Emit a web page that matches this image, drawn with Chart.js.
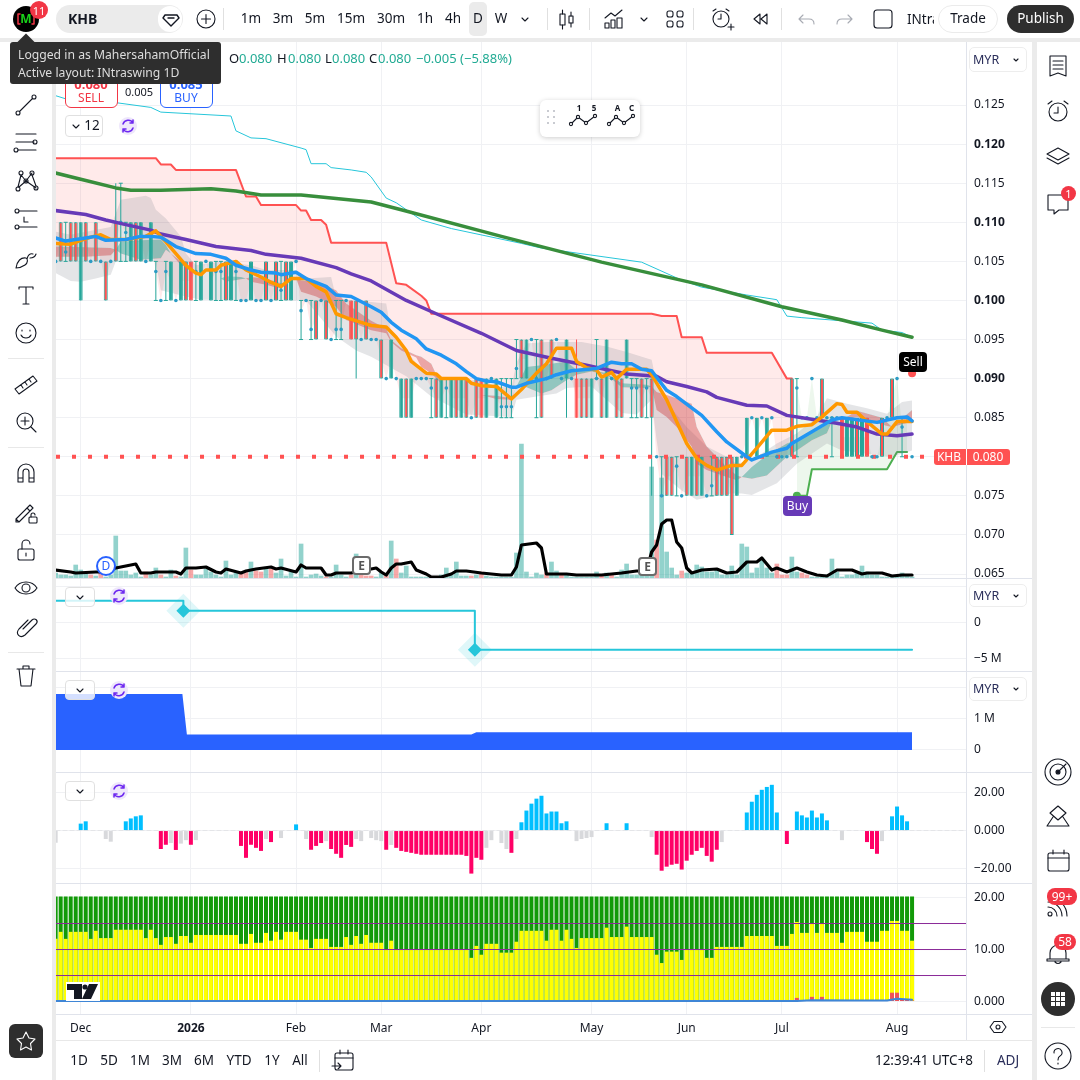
<!DOCTYPE html>
<html><head><meta charset="utf-8">
<script src="https://cdn.jsdelivr.net/npm/chart.js@4/dist/chart.umd.min.js"></script>
<style>
html,body{margin:0;padding:0;background:#fff;width:1080px;height:1080px;overflow:hidden;font-family:"Noto Sans",sans-serif;color:#131722}
canvas{position:absolute;left:56px;display:block}
.t{position:absolute;white-space:nowrap;line-height:1;transform:translate(-50%,-50%)}
.l{position:absolute;white-space:nowrap;line-height:1;transform:translateY(-50%)}
.b{position:absolute;box-sizing:border-box}
svg{position:absolute;overflow:visible}
</style></head><body>
<div id="ui"></div>
<script>
// ---------- time axis ----------
const monthBars=[5,27,48,65,85,107,126,145,168];
const monthLabels=['Dec','2026','Feb','Mar','Apr','May','Jun','Jul','Aug'];
// ---------- candles (per bar) ----------
const opens=[.105,.11,.1062,.11,.11,.10,.11,.105,.11,.105,
.105,.105,.11,.11,.1087,.105,.11,.105,.105,.105,
.1037,.10,.1037,.10,.10,.10,.105,.105,.1037,.10,
.105,.10,.1037,.1037,.105,.10,.1037,.10,.10,.10,
.10,.10,.105,.10,.105,.1013,.105,.10,.105,.0987,
.10,.0963,.10,.10,.10,.095,.0963,.0963,.10,.10,
.10,.095,.10,.095,.095,.095,.09,.09,.09,.085,
.09,.085,.09,.09,.09,.0888,.09,.085,.0888,.085,
.09,.085,.09,.085,.09,.09,.085,.09,.085,.0864,
.0864,.0864,.0913,.095,.09,.095,.09,.095,.09,.095,
.095,.09,.09,.09,.09,.09,.09,.085,.09,.09,
.085,.09,.09,.09,.09,.0888,.0888,.09,.0888,.09,
.08,.075,.08,.08,.0788,.075,.08,.075,.08,.075,
.075,.0763,.08,.08,.08,.08,.075,.08,.08,.085,
.08,.085,.08,.085,.08,.08,.08,.09,.0888,.085,
.085,.09,.085,.09,.085,.085,.085,.085,.08,.08,
.085,.08,.085,.08,.08,.085,.085,.09,.09,.0838,.085,.08];
const highs=[.105,.11,.11,.11,.11,.11,.11,.105,.11,.105,
.105,.105,.115,.115,.11,.11,.11,.11,.105,.11,
.105,.10,.105,.105,.10,.105,.105,.105,.105,.105,
.105,.105,.105,.105,.105,.105,.105,.10,.10,.105,
.10,.10,.105,.10,.105,.105,.105,.105,.105,.10,
.10,.10,.10,.10,.10,.095,.10,.10,.10,.10,
.10,.095,.10,.095,.095,.095,.09,.095,.09,.09,
.09,.09,.09,.09,.09,.09,.09,.09,.09,.09,
.09,.09,.09,.085,.09,.09,.09,.09,.09,.09,
.09,.09,.095,.095,.095,.095,.095,.095,.09,.095,
.095,.09,.095,.09,.095,.09,.09,.09,.095,.09,
.095,.09,.09,.09,.095,.09,.09,.09,.09,.09,
.08,.08,.08,.08,.08,.075,.08,.08,.08,.08,
.075,.08,.08,.08,.08,.08,.08,.08,.085,.085,
.085,.085,.085,.085,.08,.08,.08,.09,.09,.085,
.085,.09,.085,.09,.085,.085,.085,.085,.085,.085,
.085,.085,.085,.08,.08,.085,.085,.09,.09,.085,.085,.08];
const lows=[.105,.105,.105,.105,.105,.10,.105,.105,.105,.105,
.10,.105,.105,.105,.105,.105,.105,.105,.105,.105,
.10,.10,.10,.10,.10,.10,.10,.10,.10,.10,
.105,.10,.10,.10,.10,.10,.10,.10,.10,.10,
.10,.10,.10,.10,.10,.10,.10,.10,.105,.095,
.10,.095,.095,.10,.095,.095,.095,.095,.10,.095,
.09,.095,.095,.095,.095,.09,.09,.09,.09,.085,
.085,.085,.09,.09,.09,.085,.085,.085,.085,.085,
.085,.085,.085,.085,.085,.085,.085,.09,.085,.085,
.085,.085,.09,.09,.09,.095,.085,.085,.09,.09,
.095,.09,.085,.09,.085,.085,.085,.085,.09,.085,
.085,.09,.085,.085,.09,.085,.085,.085,.085,.075,
.08,.075,.075,.075,.075,.075,.075,.075,.075,.075,
.075,.075,.075,.075,.075,.07,.075,.08,.08,.085,
.08,.085,.08,.085,.08,.08,.08,.08,.08,.085,
.085,.09,.085,.085,.085,.08,.085,.08,.08,.08,
.08,.08,.08,.08,.08,.08,.085,.085,.09,.08,.085,.08];
const closes=[.105,.105,.1062,.105,.105,.11,.105,.105,.105,.105,
.10,.105,.105,.11,.1087,.11,.105,.11,.105,.11,
.1037,.10,.1037,.105,.10,.105,.10,.10,.1037,.105,
.105,.105,.1037,.1037,.10,.105,.1037,.10,.10,.105,
.10,.10,.10,.10,.10,.1013,.10,.105,.105,.0987,
.10,.0963,.095,.10,.095,.095,.0963,.0963,.10,.095,
.095,.095,.095,.095,.095,.09,.09,.095,.09,.09,
.085,.09,.09,.09,.09,.0888,.085,.09,.0888,.09,
.085,.09,.085,.085,.085,.085,.09,.09,.09,.0864,
.0864,.0864,.0913,.09,.095,.095,.09,.085,.09,.09,
.095,.09,.095,.09,.085,.085,.085,.09,.09,.085,
.095,.09,.085,.085,.095,.0888,.0888,.085,.0888,.085,
.08,.075,.075,.075,.0788,.075,.075,.08,.075,.08,
.075,.0763,.075,.075,.075,.07,.08,.08,.085,.085,
.085,.085,.085,.085,.08,.08,.08,.08,.0888,.085,
.085,.09,.085,.085,.085,.085,.085,.08,.085,.085,
.08,.085,.08,.08,.08,.08,.085,.085,.09,.0838,.085,.08];
const solidRedBars=[27,59,85,104,157,162];
// ---------- main-pane lines (bar index + price at each bend) ----------
const cyanBars=[0,2,11,19,21,35,36,39,42,49,50,51,54,55,59,62,63,66,68,73,79,93,97,117,125,129,138,144,146,149,163,165,169,171];
const cyanVals=[.1262,.1258,.1254,.1247,.1241,.1236,.1217,.1208,.1207,.1195,.1193,.1175,.1175,.117,.1167,.1164,.1158,.1131,.1125,.1103,.1092,.1073,.1067,.1049,.1026,.1017,.1007,.1001,.098,.0978,.0971,.0962,.0959,.0953];
const greenMaBars=[0,5,12,15,21,31,36,41,49,55,63,69,89,109,129,145,157,165,171];
const greenMaVals=[.1163,.1155,.1144,.1141,.1141,.1143,.114,.1135,.1135,.1131,.1126,.1116,.1082,.1049,.102,.0992,.0975,.0962,.0953];
const purpleBars=[0,6,10,14,19,21,26,32,39,42,49,56,59,63,70,76,85,92,99,106,114,120,122,126,130,132,138,142,146,150,156,160,164,168,171];
const purpleVals=[.1115,.111,.1103,.1097,.109,.1085,.1078,.1069,.1064,.1059,.1054,.1042,.1034,.1025,.1,.0983,.0958,.0936,.0926,.0917,.0906,.0903,.0896,.089,.0883,.0876,.0866,.0865,.0853,.0849,.0843,.0838,.0829,.0827,.0829];
const blueBars=[0,2,6,8,10,14,17,19,21,22,24,28,31,34,36,39,41,44,45,48,50,54,56,59,63,65,67,69,72,74,77,80,82,84,86,88,91,92,94,98,100,103,108,111,113,115,117,119,122,124,129,132,134,138,139,143,146,147,151,155,157,164,168,170,171];
const blueVals=[.108,.1076,.108,.1082,.1077,.1078,.1082,.1082,.1081,.1077,.1069,.106,.1059,.1054,.1045,.1039,.1036,.1035,.1033,.1036,.1028,.1018,.1007,.1005,.0992,.0985,.0972,.0962,.0951,.0938,.093,.0919,.0909,.09,.0897,.0896,.0889,.0889,.0894,.09,.0905,.091,.0913,.0921,.0919,.0919,.0912,.091,.0885,.0877,.0853,.0832,.0819,.08,.0796,.0806,.0811,.0817,.0832,.0847,.085,.0844,.085,.0851,.0846];
const orangeBars=[0,3,6,7,9,11,14,18,20,22,24,26,28,29,30,32,33,36,38,41,43,45,47,50,52,54,56,58,61,63,66,68,70,71,74,76,77,82,83,85,88,91,93,96,98,100,103,104,106,108,109,111,112,114,118,119,122,126,128,130,132,135,137,140,143,146,148,151,153,156,157,158,160,162,165,166,168,171];
const orangeVals=[.1073,.1072,.1079,.1081,.1084,.1078,.1078,.1082,.1089,.1075,.106,.1045,.1035,.1033,.1039,.1039,.1045,.105,.1039,.103,.1023,.1018,.1028,.1028,.1018,.1011,.0983,.0978,.0972,.0968,.0966,.0953,.0936,.0922,.0907,.0906,.09,.09,.0894,.0891,.089,.0874,.0886,.0907,.0919,.0939,.0939,.0922,.0914,.0911,.0902,.0908,.09,.0912,.0912,.0905,.0873,.0817,.0798,.0789,.0783,.0789,.0789,.0811,.0834,.0834,.0839,.0841,.0851,.0868,.0867,.0857,.0857,.0845,.0829,.0829,.0845,.0845];
const redStopBars=[0,20,21,23,24,36,38,40,41,48,49,50,51,53,54,55,66,68,70,73,74,75,119,121,124,125,129,130,143,146,147];
const redStopVals=[.1182,.1182,.1174,.1174,.1167,.1167,.1133,.1133,.1122,.1122,.1115,.1115,.1103,.1103,.1097,.1074,.1074,.1022,.102,.1006,.1,.0983,.0983,.098,.098,.0953,.0953,.0933,.0933,.09,.09];
const greenStopBars=[148,150,151,166,168,170];
const greenStopVals=[.075,.075,.0784,.0784,.0806,.0806];
const greyBarsUp=[0,3,11,13,18,19,20,22,25,26,28,33,39,42,48,50,55,56,59,63,66,67,70,73,76,82,85,88,91,92,94,98,102,105,110,114,118,119,120,121,126,130,134,136,139,144,148,152,154,158,162,166,169,171];
const greyUpper=[.1088,.1084,.1094,.1129,.1134,.1131,.1116,.1105,.1082,.106,.1045,.105,.1045,.1039,.1039,.1028,.103,.1003,.1,.0998,.0996,.0958,.0936,.0911,.0903,.0898,.0898,.089,.0888,.092,.0945,.0947,.0947,.0947,.0941,.0934,.0926,.0924,.0894,.0877,.0838,.0813,.08,.0791,.0796,.0817,.083,.0851,.0875,.0868,.0862,.0855,.087,.0872];
const greyBarsLow=[0,3,5,8,11,12,20,21,26,29,48,50,56,60,63,70,75,82,91,92,96,100,102,107,110,113,116,119,120,121,125,128,130,135,137,139,144,148,154,157,162,167,171];
const greyLower=[.1035,.1025,.1024,.1028,.1033,.105,.105,.1013,.1005,.1001,.1,.1,.0954,.0936,.0928,.0903,.0877,.0854,.0851,.0873,.0877,.0881,.0888,.089,.0873,.0856,.0854,.0873,.0821,.0778,.0757,.0745,.0748,.0753,.0753,.0751,.0766,.0791,.0817,.0808,.0804,.08,.0808];
const cloudBars=[0,6,11,12,13,17,21,22,23,25,26,27,33,34,37,38,39,42,45,46,48,49,52,56,58,63,66,67,69,72,73,75,76,77,85,88,91,92,94,97,99,102,104,107,110,113,118,119,120,122,124,127,128,130,134,136,137,139,142,146,148,151,154,155,157,160,165,167,171];
const cloudA=[.1056,.1056,.1058,.1065,.1075,.1077,.1078,.1071,.106,.1045,.1043,.1039,.1028,.1031,.103,.1028,.1024,.102,.1015,.1022,.1028,.1011,.1005,.0992,.0975,.0962,.0958,.0947,.0936,.0927,.0915,.0907,.09,.0894,.0879,.0874,.0873,.089,.0915,.0917,.0919,.0922,.0911,.0911,.0907,.0894,.0892,.089,.086,.0851,.0838,.0813,.0791,.0783,.0774,.077,.0774,.0787,.0802,.0817,.0822,.083,.0841,.0845,.0847,.0851,.0841,.0838,.0845];
const cloudB=[.1069,.1068,.1067,.1065,.106,.1052,.1054,.1065,.106,.105,.1047,.1039,.1028,.1024,.1027,.1028,.103,.1028,.1022,.1022,.1028,.1026,.1024,.1013,.0996,.0974,.0964,.0949,.0939,.093,.0928,.0919,.0905,.0894,.0879,.0878,.0875,.089,.0889,.0881,.0885,.0898,.0905,.0909,.0905,.0889,.0888,.089,.0883,.0879,.0875,.0868,.0838,.0813,.0787,.0776,.0774,.0772,.0776,.08,.0808,.0821,.083,.0845,.0847,.0859,.085,.0838,.086];
// ---------- volume (thousands) ----------
const volumes=[50,30,30,20,130,80,50,30,20,50,
10,30,420,70,70,30,50,10,60,30,
100,30,10,80,20,10,300,80,30,30,
90,60,30,10,170,30,50,50,60,160,
70,60,90,90,50,190,20,60,10,340,
10,30,40,20,10,10,130,30,10,30,
240,30,20,20,10,50,30,370,190,50,
120,10,10,10,10,10,10,30,100,30,
160,20,20,20,30,60,20,10,10,10,
10,10,250,1340,60,10,50,30,50,160,
70,30,30,10,10,10,10,10,60,30,
50,30,10,80,140,30,30,30,30,1110,
380,1000,260,100,30,70,50,40,130,110,
60,60,80,30,30,120,30,340,310,50,
100,200,100,50,140,30,30,210,60,50,
30,10,10,10,30,190,60,10,30,30,
60,120,60,30,30,10,10,10,10,50,30,10];
const volumeDownBars=[7,9,18,21,24,27,37,38,40,41,43,54,59,61,62,63,66,68,83,85,98,101,109,111,120,125,144,145,146,149,150];
const volMaBars=[0,3,4,8,9,10,13,16,17,19,20,24,25,26,28,30,32,33,34,37,38,40,43,44,45,48,49,50,53,54,55,56,59,64,65,66,67,68,69,71,72,74,75,77,79,80,82,85,87,89,91,92,93,96,97,98,102,104,109,113,116,118,119,120,121,122,123,124,125,126,127,129,132,134,136,138,140,141,143,144,146,148,150,152,154,156,159,161,162,165,167,169,171];
const volMaVals=[80,60,50,60,60,80,110,140,50,50,60,60,40,100,100,110,60,50,90,50,70,90,110,90,100,60,130,100,100,30,30,50,50,100,60,30,100,140,140,160,80,40,10,10,40,70,70,50,40,30,30,110,330,350,300,40,40,30,30,50,70,70,260,330,540,580,580,360,300,100,50,80,90,50,60,160,160,200,80,100,60,100,60,30,20,80,80,40,50,50,20,30,30];
const lastClose=[.08];
// ---------- pane 2: step line ----------
const stepBars=[0,25.5,83.7,171];
const stepVals=[3.06,1.67,-3.75,-3.75];
const stepEventBars=[25.5,83.7];
const stepEventVals=[1.67,-3.75];
// ---------- pane 3: blue area ----------
const areaBars=[0,25.3,26.2,83,84,171];
const areaVals=[1.81,1.81,.5,.5,.57,.57];
// ---------- pane 4: histogram ----------
const momentum=[-6.3,0,0,0,0,3.6,4.8,0,0,0,
-4.4,-5.8,0,0,4.8,6.3,7.4,7.9,0,0,
0,-9.6,-7.4,-6.5,-10.1,-6.8,-5,-7.4,-5,0,
0,0,0,0,0,0,0,-8,-14.2,-7.4,
-9,-10.6,-4.4,-6,0,-3.9,0,0,3.2,0,
-4.4,-10,-8,-6.5,-5.5,-9.6,-12.1,-14.2,-7.5,-8.5,
-4.4,-5.5,0,-3.9,-5,-5.5,-10,-7.5,-9,-10.6,
-11.1,-11.6,-12.1,-12.6,-12.6,-12.6,-12.6,-12.6,-12.6,-12.6,
-12.6,-12.6,-13.2,-22.4,-14.2,-15.2,-9,-5,0,-6.5,
-9.6,-11.6,-4.4,4.3,10.4,14,16.6,18.1,8.9,9.9,
9.9,3.8,4.8,0,-5.5,-4.4,-3.9,-3.4,0,0,
3.8,0,0,0,3.8,0,0,0,0,-3.4,
-12.6,-20.9,-18.8,-17.8,-17.3,-20.3,-15.7,-12.6,-10.6,-9,
-13.2,-16.2,-10,-6,0,0,0,0,9.4,15,
18.6,21.2,22.7,23.8,9.4,0,-7,0,9.9,7.9,
6.8,10.4,6.8,8.9,5.3,0,0,-5,0,0,
0,0,-6,-9.6,-12.1,-5.5,0,7.4,12.5,7.9,4.8,0];
const momentumGreyBars=[0,10,11,23,25,26,28,42,45,50,54,60,61,63,64,65,67,86,87,89,90,92,104,105,106,107,119,133,157,165];
// ---------- pane 5: stacked columns ----------
const oscGreen=[20.2,20.2,20.2,20.2,20.2,20.2,20.2,20.2,20.2,20.2,20.2,20.2,20.2,20.2,20.2,20.2,20.2,20.2,20.2,20.2,
20.2,20.2,20.2,20.2,20.2,20.2,20.2,20.2,20.2,20.2,20.2,20.2,20.2,20.2,20.2,20.2,20.2,20.2,20.2,20.2,
20.2,20.2,20.2,20.2,20.2,20.2,20.2,20.2,20.2,20.2,20.2,20.2,20.2,20.2,20.2,20.2,20.2,20.2,20.2,20.2,
20.2,20.2,20.2,20.2,20.2,20.2,20.2,20.2,20.2,20.2,20.2,20.2,20.2,20.2,20.2,20.2,20.2,20.2,20.2,20.2,
20.2,20.2,20.2,20.2,20.2,20.2,20.2,20.2,20.2,20.2,20.2,20.2,20.2,20.2,20.2,20.2,20.2,20.2,20.2,20.2,
20.2,20.2,20.2,20.2,20.2,20.2,20.2,20.2,20.2,20.2,20.2,20.2,20.2,20.2,20.2,20.2,20.2,20.2,20.2,20.2,
20.2,20.2,20.2,20.2,20.2,20.2,20.2,20.2,20.2,20.2,20.2,20.2,20.2,20.2,20.2,20.2,20.2,20.2,20.2,20.2,
20.2,20.2,20.2,20.2,20.2,20.2,20.2,20.2,20.2,20.2,20.2,20.2,20.2,20.2,20.2,20.2,20.2,20.2,20.2,20.2,
20.2,20.2,20.2,20.2,20.2,20.2,20.2,20.2,20.2,20.2,20.2,20.2];
const oscYellow=[12.05,13.4,12.05,13.4,13.4,13.4,13.4,12.05,13.6,12.2,
12.2,12.2,13.8,13.8,13.8,13.8,13.8,13.8,12.2,13.8,
12.2,10.9,12.4,12.4,11.1,12.6,12.6,11.3,12.8,12.8,
12.8,12.8,12.8,12.8,12.8,12.8,12.8,11.1,11.1,13,
11.3,11.3,13.2,11.7,13.4,11.9,13.4,13.4,13.4,11.9,
11.9,10.3,12.05,12.05,12.05,10.5,10.5,10.5,12.4,10.9,
12.6,11.1,12.8,11.3,11.3,11.3,9.9,11.7,9.9,9.9,
9.9,9.9,9.9,9.9,9.9,9.9,9.9,9.9,9.9,9.9,
9.9,9.9,9.9,8.4,10.7,9,11.1,11.1,11.1,9.4,
9.4,9.4,11.5,13.6,13.6,13.6,13.6,13.6,11.7,13.8,
13.8,11.7,13.8,12.05,10.3,12.2,12.2,12.2,12.2,12.2,
14.2,12.4,12.4,12.4,14.4,12.4,12.4,12.4,12.4,12.4,
9,7.4,9.6,9.6,9.6,8,9.9,9.9,9.9,9.9,
8.4,8.4,10.5,10.5,10.5,10.5,10.5,10.5,12.6,12.6,
12.6,12.6,12.6,12.6,10.7,10.7,10.7,13,15.3,13.2,
13.2,14.9,13.2,14.9,13.2,13.2,13.2,11.3,13.4,13.4,
13.4,13.4,11.5,11.5,11.5,13.6,13.6,15.5,15.5,13.6,13.6,11.7];
const oscRedBars=[148,151,153,155,157,159,161,163,165,167,168,169,170,171];
const oscRedVals=[.7,.9,.9,.2,.2,.2,.2,.2,.2,1.7,1.7,.3,.3,.2];
const oscLineBars=[0,148,151,160,166,168,171];
const oscLineVals=[.1,.1,.25,.2,.2,.55,.35];
const oscLevels=[5,10,15];

// ---------- helpers ----------
const GRID='#F0F1F4',TEAL='#26A69A',RED='#FF5252',TXT='#131722';
const FONT='"Noto Sans"';
const xMin=.066,xMax=181.77;
const pts=(xs,ys)=>xs.map((x,i)=>({x,y:ys[i]}));
const idx=opens.map((_,i)=>i);
const noPad=s=>{s.paddingLeft=0;s.paddingRight=0;s.paddingTop=0;s.paddingBottom=0;};
function xAxis(extra){return Object.assign({type:'linear',min:xMin,max:xMax,offset:false,
  grid:{color:GRID,offset:false,drawTicks:false},border:{display:false},
  ticks:{display:false,autoSkip:false},afterFit:noPad,afterBuildTicks:s=>{s.ticks=monthBars.map(v=>({value:v}))}},extra||{});}
function yAxis(vals,min,max,fmt,boldFn){return {position:'right',min,max,
  grid:{color:GRID,drawTicks:false},border:{display:false},
  afterFit:s=>{s.width=66;noPad(s);},afterBuildTicks:s=>{s.ticks=vals.map(v=>({value:v}))},
  ticks:{padding:8,color:TXT,autoSkip:false,callback:fmt,
    font:c=>({family:FONT,size:12,weight:boldFn&&c.tick&&boldFn(c.tick.value)?'700':'400'})}};}
function line(xs,ys,color,width,extra){return Object.assign({type:'line',data:pts(xs,ys),borderColor:color,borderWidth:width,
  pointRadius:0,tension:0,fill:false,borderJoinStyle:'round',borderCapStyle:'round',clip:true},extra||{});}
function mk(id,top,h,datasets,scales){
  const c=document.createElement('canvas');c.id=id;c.width=976;c.height=h;c.style.top=top+'px';c.style.width='976px';c.style.height=h+'px';
  document.body.appendChild(c);
  datasets.forEach((d,i)=>{d.order=1000-i;});
  return new Chart(c,{type:'bar',data:{datasets},options:{responsive:false,animation:false,devicePixelRatio:1,events:[],
    layout:{padding:0,autoPadding:false},plugins:{legend:{display:false},tooltip:{enabled:false}},scales}});
}
// ---------- main pane ----------
const mids=idx.map(i=>(opens[i]+closes[i])/2);
const bodyI=idx.filter(i=>opens[i]!==closes[i]);
const wickI=idx.filter(i=>highs[i]!==lows[i]);
const dojiI=idx.filter(i=>opens[i]===closes[i]);
const thinI=dojiI.filter(i=>highs[i]!==lows[i]);
const volColors=idx.map(i=>volumeDownBars.includes(i)?'rgba(242,105,105,.58)':'rgba(38,166,154,.5)');
const mainDs=[];
mainDs.push({type:'bar',yAxisID:'v',grouped:false,barThickness:4,data:pts(idx,volumes),backgroundColor:volColors});
const midIdx=mainDs.length;
mainDs.push(line(idx,mids,'rgba(0,0,0,0)',0));
mainDs.push(line(redStopBars,redStopVals,RED,2,{fill:{target:midIdx,above:'rgba(255,82,82,.12)',below:'rgba(255,82,82,.12)'}}));
mainDs.push(line(greenStopBars,greenStopVals,'#4CAF50',2,{fill:{target:midIdx,above:'rgba(76,175,80,.1)',below:'rgba(76,175,80,.1)'}}));
const gl=mainDs.length;
mainDs.push(line(greyBarsLow,greyLower,'rgba(0,0,0,0)',0));
mainDs.push(line(greyBarsUp,greyUpper,'rgba(0,0,0,0)',0,{fill:{target:gl,above:'rgba(120,123,134,.2)',below:'rgba(120,123,134,.2)'}}));
const cb=mainDs.length;
mainDs.push(line(cloudBars,cloudB,'rgba(0,0,0,0)',0));
mainDs.push(line(cloudBars,cloudA,'rgba(0,0,0,0)',0,{fill:{target:cb,above:'rgba(20,150,130,.4)',below:'rgba(205,60,60,.4)'}}));
mainDs.push({type:'bar',grouped:false,barThickness:1,borderWidth:0,inflateAmount:0,
  data:wickI.map(i=>({x:i,y:[lows[i],highs[i]]})),backgroundColor:wickI.map(i=>i===104?RED:TEAL)});
mainDs.push({type:'bar',grouped:false,barThickness:4,borderWidth:1,borderSkipped:false,inflateAmount:0,
  data:bodyI.map(i=>({x:i,y:[Math.min(opens[i],closes[i]),Math.max(opens[i],closes[i])]})),
  backgroundColor:bodyI.map(i=>closes[i]<opens[i]?RED:TEAL),
  borderColor:bodyI.map(i=>solidRedBars.includes(i)?RED:TEAL)});
mainDs.push({type:'line',showLine:false,data:[...thinI.map(i=>({x:i,y:highs[i]})),...thinI.map(i=>({x:i,y:lows[i]}))],
  pointStyle:'line',pointRadius:2,pointBorderColor:TEAL,pointBorderWidth:1,pointBackgroundColor:TEAL});
mainDs.push(line([xMin,xMax],[lastClose[0],lastClose[0]],RED,4,{borderDash:[4,12],borderCapStyle:'butt'}));
mainDs.push({type:'line',showLine:false,data:dojiI.map(i=>({x:i,y:opens[i]})),pointRadius:1.8,pointBorderWidth:0,pointBackgroundColor:'#2B9CC4'});
mainDs.push(line(cyanBars,cyanVals,'#26C6DA',1));
mainDs.push(line(greenMaBars,greenMaVals,'#388E3C',3.5));
mainDs.push(line(purpleBars,purpleVals,'#673AB7',3.5));
mainDs.push(line(orangeBars,orangeVals,'#FF9800',3.5));
mainDs.push(line(blueBars,blueVals,'#2196F3',3.5));
mainDs.push(line(volMaBars,volMaVals,'#000',3.2,{yAxisID:'v'}));
mainDs.push({type:'line',showLine:false,data:[{x:148,y:.075}],pointRadius:4,pointBorderWidth:0,pointBackgroundColor:'#4CAF50'});
mainDs.push({type:'line',showLine:false,data:[{x:171,y:.0907}],pointRadius:4,pointBorderWidth:0,pointBackgroundColor:RED});
const priceTicks=[.125,.12,.115,.11,.105,.10,.095,.09,.085,.08,.075,.07,.065];
mk('pane1',42,536,mainDs,{x:xAxis(),
  y:yAxis(priceTicks,.06449,.13307,v=>v.toFixed(3),v=>['0.120','0.110','0.100','0.090'].includes(v.toFixed(3))),
  v:{display:false,min:0,max:5360}});
// ---------- pane 2 ----------
mk('pane2',579,92,[
  line(stepBars,stepVals,'#26C6DA',2,{stepped:true}),
  {type:'line',showLine:false,data:pts(stepEventBars,stepEventVals),pointStyle:'rectRot',pointRadius:17,pointBorderWidth:0,pointBackgroundColor:'rgba(38,198,218,.15)'},
  {type:'line',showLine:false,data:pts(stepEventBars,stepEventVals),pointStyle:'rectRot',pointRadius:7,pointBorderWidth:0,pointBackgroundColor:'#26C6DA'}
],{x:xAxis(),y:yAxis([5,0,-5],-6.71,6.07,v=>v===5?'':v===0?'0':'\u22125 M')});
// ---------- pane 3 ----------
mk('pane3',672,100,[
  line(areaBars,areaVals,'#2962FF',0,{fill:'origin',backgroundColor:'#2962FF'})
],{x:xAxis(),y:yAxis([2,1,0],-.71,2.516,v=>v===2?'':v===1?'1 M':'0')});
// ---------- pane 4 ----------
mk('pane4',773,110,[
  line([xMin,xMax],[0,0],'#E4E5E8',1,{borderDash:[4,3]}),
  {type:'bar',grouped:false,barThickness:4,inflateAmount:0,data:pts(idx,momentum),
    backgroundColor:idx.map(i=>momentumGreyBars.includes(i)?'#D8D9DC':momentum[i]>0?'#00BFFF':'#FF0066')}
],{x:xAxis(),y:yAxis([20,0,-20],-27.3,29.95,v=>v===20?'20.00':v===0?'0.000':'\u221220.00')});
// ---------- pane 5 ----------
const oscDs=[
  {type:'bar',grouped:false,barThickness:4,inflateAmount:0,data:pts(idx,oscGreen),backgroundColor:'#129A08'},
  {type:'bar',grouped:false,barThickness:4,inflateAmount:0,data:pts(idx,oscYellow),backgroundColor:'#FFFF00'},
  {type:'bar',grouped:false,barThickness:4,inflateAmount:0,data:pts(oscRedBars,oscRedVals),backgroundColor:'#F0525A'},
  line(oscLineBars,oscLineVals,'#3F86D6',2)
];
oscLevels.forEach(l=>oscDs.push(line([xMin,xMax],[l,l],'#8A2A98',1)));
mk('pane5',884,156,oscDs,{
  x:xAxis({afterFit:s=>{s.height=26;noPad(s);},ticks:{display:true,padding:7,autoSkip:false,maxRotation:0,color:TXT,
    callback:(v,i)=>monthLabels[i],font:c=>({family:FONT,size:12,weight:c.index===1?'700':'400'})}}),
  y:yAxis([20,10,0],-2.4,22.6,v=>v===20?'20.00':v===10?'10.00':'0.000')});

// ---------- surrounding interface ----------
const ui=document.createElement('div');ui.style.cssText='position:absolute;left:0;top:0;width:1080px;height:1080px;pointer-events:none';document.body.appendChild(ui);
function box(x,y,w,h,css){const d=document.createElement('div');d.className='b';d.style.cssText=`left:${x}px;top:${y}px;width:${w}px;height:${h}px;`+(css||'');ui.appendChild(d);return d;}
function T(s,x,y,css,cls){const d=document.createElement('div');d.className=cls||'t';d.textContent=s;d.style.cssText=`left:${x}px;top:${y}px;font-size:13px;`+(css||'');ui.appendChild(d);return d;}
function L(s,x,y,css){return T(s,x,y,css,'l');}
function ic(cx,cy,inner,col,sw){const n='http://www.w3.org/2000/svg';const s=document.createElementNS(n,'svg');s.setAttribute('width',28);s.setAttribute('height',28);s.setAttribute('viewBox','0 0 28 28');
  s.style.cssText=`left:${cx-14}px;top:${cy-14}px;fill:none;stroke:${col||'#131722'};stroke-width:${sw||1.1};stroke-linecap:round;stroke-linejoin:round`;s.innerHTML=inner;ui.appendChild(s);return s;}
// frame strips
box(0,38,1080,4,'background:#EBEBEB');box(52,38,4,1042,'background:#EBEBEB');box(1032,38,5,1042,'background:#EBEBEB');
box(56,1040,976,1,'background:#E8E8E8');
box(966,42,1,998,'background:#E0E3EB');
[578,671,772,883].forEach(y=>box(56,y,976,1,'background:#E0E3EB'));box(56,1014,976,1,'background:#E0E3EB');
// top bar
box(13,6,26,26,'background:#000;border-radius:50%');
T('M',26,19,'color:#19d219;font-size:12px;font-weight:700');
ic(26,19,'<path d="M8 9H6v10h2M20 9h2v10h-2"/>','#F23645',1.5);
box(30,1,18,18,'background:#F23645;border-radius:50%');T('11',39,10,'color:#fff;font-size:11px');
box(56,5,127,28,'background:#EBEBEB;border-radius:14px');L('KHB',68,19,'font-weight:700;font-size:14px');
box(158,6,24,26,'background:#fff;border-radius:13px');
ic(171,19,'<path d="M8 10h12l2 3-8 8-8-8z"/><path d="M11 13h6"/>','#131722',1.4);
ic(206,19,'<circle cx="14" cy="14" r="9"/><path d="M14 9.5v9M9.5 14h9"/>');
box(223,8,1,22,'background:#E0E0E0');
[['1m',251],['3m',283],['5m',315],['15m',351],['30m',391],['1h',425],['4h',453],['W',501]].forEach(a=>T(a[0],a[1],19,'font-size:13.5px'));
box(469,2,18,34,'background:#EBEBEB;border-radius:5px');T('D',478,19,'font-size:13.5px');
ic(525,19,'<path d="M11 13l3 3 3-3"/>');
box(547,8,1,22,'background:#E0E0E0');
ic(567,19,'<rect x="7" y="9" width="5" height="11"/><path d="M9.5 5v4M9.5 20v4"/><rect x="16" y="11" width="4" height="7"/><path d="M18 7v4M18 18v4"/>');
box(589,8,1,22,'background:#E0E0E0');
ic(614,19,'<path d="M5 13l6-5 4 3 7-6"/><rect x="5" y="18" width="4" height="5"/><rect x="11" y="15" width="4" height="8"/><rect x="17" y="13" width="5" height="10"/>');
ic(644,19,'<path d="M11 13l3 3 3-3"/>');
ic(675,19,'<rect x="6" y="6" width="6" height="6" rx="2"/><rect x="16" y="6" width="6" height="6" rx="2"/><rect x="6" y="16" width="6" height="6" rx="2"/><rect x="16" y="16" width="6" height="6" rx="2"/>');
box(693,8,1,22,'background:#E0E0E0');
ic(722,19,'<circle cx="13" cy="14" r="8"/><path d="M13 9v5h-3M5 6l3-2M21 6l-3-2M20 22h6M23 19v6"/>');
ic(760,19,'<path d="M14 9l-6 5 6 5zM21 9l-6 5 6 5z"/>');
box(781,8,1,22,'background:#E0E0E0');
ic(806,19,'<path d="M11 10l-4 4 4 4M7 14h10q5 0 5 5"/>','#A8ABB3');
ic(845,19,'<path d="M17 10l4 4-4 4M21 14H11q-5 0-5 5"/>','#A8ABB3');
ic(883,19,'<rect x="5" y="5" width="18" height="18" rx="3"/>');
L('INtra',907,19,'font-size:13.5px;width:27px;overflow:hidden;line-height:18px');
box(938,5,60,28,'background:#fff;border:1px solid #EBEBEB;border-radius:14px');T('Trade',968,19,'font-size:13.5px');
box(1007,5,67,28,'background:#2E2E2E;border-radius:14px');T('Publish',1040.5,19,'color:#fff;font-size:13.5px');
// left bar
const lb={105:'<circle cx="6" cy="22" r="2"/><circle cx="22" cy="6" r="2"/><path d="M7.5 20.5l13-13"/>',
143:'<path d="M4 5h20M4 13h18M6 21h18"/><circle cx="23" cy="13" r="2"/><circle cx="4" cy="21" r="2"/>',
181:'<circle cx="6" cy="22" r="2"/><circle cx="9" cy="6" r="2"/><circle cx="14" cy="14" r="2"/><circle cx="20" cy="6" r="2"/><circle cx="24" cy="21" r="2"/><path d="M7 20l7-6 10 7M9 8l5 6 6-8M6 20l3-12M20 8l4 11"/>',
219:'<path d="M7 6h18M7 22h18"/><circle cx="5" cy="6" r="2"/><circle cx="5" cy="22" r="2"/><path d="M12 12v5h4"/>',
258:'<path d="M4 24c1-7 5-11 10-10 2 1 2 5-1 7-3 2-6 3-9 3zM15 15c1-4 3-6 6-5M18 14c2 0 5-1 6-4"/>',
295:'<path d="M7 6h14M14 6v17M11 23h6M7 6v2M21 6v2"/>',
333:'<circle cx="14" cy="14" r="10"/><path d="M9 16c2 4 8 4 10 0M10 11v1M18 11v1"/>',
384:'<path d="M3 19L21 6l4 5L7 24zM9 15l2 3M13 12l2 3M17 9l2 3"/>',
422:'<circle cx="13" cy="13" r="8"/><path d="M19 19l5 5M13 9v8M9 13h8"/>',
473:'<path d="M6 23V13a8 8 0 0 1 16 0v10h-5V13a3 3 0 0 0-6 0v10zM6 19h5M17 19h5"/>',
512:'<path d="M4 21l3 3 11-11-3-3zM4 21v3h3M15 10l3-3 3 3-3 3"/><rect x="17" y="19" width="8" height="6" rx="1"/><path d="M19 19v-2a2 2 0 0 1 4 0"/>',
550:'<rect x="6" y="13" width="16" height="11" rx="2"/><path d="M10 13V8a4 4 0 0 1 8 0M14 17v3"/>',
588:'<path d="M3 14c5-8 17-8 22 0-5 8-17 8-22 0z"/><circle cx="14" cy="14" r="4"/>',
626:'<path d="M11 17l9-9c3-3 7 1 4 4l-11 11c-5 4-10-1-6-6l9-9"/>',
676:'<path d="M5 7h18M11 7V4h6v3M7 7l2 17h10l2-17"/>'};
Object.keys(lb).forEach(y=>ic(26,+y,lb[y]));
[358,447,652].forEach(y=>box(8,y,36,1,'background:#E8E8E8'));
box(9,1024,34,34,'background:#2E2E2E;border-radius:6px');
ic(26,1041,'<path d="M14 5l3 6 6 1-4.5 4.5 1 6.5-5.5-3-5.5 3 1-6.5L5 12l6-1z"/>','#fff');
// right bar
const rb={66:'<path d="M6 4h16v20l-8-3-8 3zM9 9h10M9 13h10M9 17h10"/>',
111:'<circle cx="14" cy="15" r="9"/><path d="M14 10v6h-4M4 7l4-3M24 7l-4-3"/>',
157:'<path d="M14 5l11 6-11 6-11-6zM3 15l11 6 11-6"/>',
204:'<path d="M4 5h20v15h-9l-5 4v-4H4z"/>',
772:'<circle cx="14" cy="14" r="13"/><circle cx="14" cy="14" r="8"/><circle cx="14" cy="14" r="2" fill="#131722"/><path d="M14 14l8-8"/>',
816:'<path d="M14 4l8 7-8 7-8-7zM3 24l6-9M25 24l-6-9M3 24h22"/>',
860:'<rect x="4" y="7" width="21" height="18" rx="2"/><path d="M4 12h21M9 4v4M20 4v4"/>',
905:'<circle cx="6" cy="23" r="2"/><path d="M4 16a9 9 0 0 1 9 9M4 11a14 14 0 0 1 14 14M4 6a19 19 0 0 1 19 19"/>',
952:'<path d="M6 21v-6a8 8 0 0 1 16 0v6M3 21h22v2H3zM11 24q3 3 6 0"/>',
1056:'<circle cx="14" cy="14" r="13"/><path d="M10 11a4 4 0 1 1 6 3c-2 1-2 2-2 4M14 21v1"/>'};
Object.keys(rb).forEach(y=>ic(1058,+y,rb[y]));
box(1061,186,15,15,'background:#F23645;border-radius:50%');T('1',1068.5,193,'color:#fff;font-size:11px');
box(1047,888,30,17,'background:#F23645;border-radius:8px');T('99+',1062,897,'color:#fff;font-size:12px');
box(1054,934,22,16,'background:#F23645;border-radius:8px');T('58',1065,942,'color:#fff;font-size:12px');
box(1041,982,34,34,'background:#2E2E2E;border-radius:50%');
ic(1058,999,'<g fill="#fff" stroke="none"><rect x="7" y="7" width="4" height="4"/><rect x="12" y="7" width="4" height="4"/><rect x="17" y="7" width="4" height="4"/><rect x="7" y="12" width="4" height="4"/><rect x="12" y="12" width="4" height="4"/><rect x="17" y="12" width="4" height="4"/><rect x="7" y="17" width="4" height="4"/><rect x="12" y="17" width="4" height="4"/><rect x="17" y="17" width="4" height="4"/></g>');
box(1041,1027,34,1,'background:#E8E8E8');
// bottom bar
[['1D',79],['5D',109],['1M',140],['3M',172],['6M',204],['YTD',239],['1Y',272],['All',300]].forEach(a=>T(a[0],a[1],1061,'font-size:13.5px'));
box(319,1050,1,22,'background:#E0E0E0');
ic(343,1061,'<rect x="6" y="6" width="18" height="17" rx="2"/><path d="M6 11h18M11 3v4M19 3v4M3 19h9M9 16l3 3-3 3"/>');
T('12:39:41 UTC+8',924,1061,'font-size:13.5px');
box(984,1050,1,22,'background:#E0E0E0');T('ADJ',1008,1061,'font-size:13.5px;color:#2A2E5A');
ic(998,1027,'<path d="M10 8.5h8l4 5.5-4 5.5h-8l-4-5.5z"/><circle cx="14" cy="14" r="2"/>');
// price-scale currency buttons
[[47,25],[584,23],[677,24]].forEach(a=>{box(969,a[0],58,a[1],'background:#fff;border:1px solid #EDEDED;border-radius:5px');
  L('MYR',973,a[0]+a[1]/2,'font-size:12.5px;color:#2A2E5A');ic(1016,a[0]+a[1]/2,'<path d="M12 13l2 2 2-2"/>');});
// pane controls
function sync(x,y){box(x-9,y-9,18,18,'background:#EEE7FB;border-radius:50%');ic(x,y,'<path d="M9 12a5.5 5.5 0 0 1 10-1M19 16a5.5 5.5 0 0 1-10 1M19 8v3h-3M9 20v-3h3"/>','#6D28F0',1.5);}
box(65,115,38,22,'background:#fff;border:1px solid #E0E0E0;border-radius:4px');ic(76,126,'<path d="M11 13l3 3 3-3"/>');T('12',92,126,'font-size:13.5px');sync(128,126);
[[587,596],[680,690],[781,791]].forEach(a=>{box(65,a[0],30,20,'background:rgba(255,255,255,.8);border:1px solid #E0E0E0;border-radius:4px');ic(80,a[0]+10,'<path d="M11 13l3 3 3-3"/>');sync(119,a[1]);});
// sell / buy widget
box(65,70,53,38,'background:#fff;border:1px solid #F23645;border-radius:6px');T('0.080',91,84,'font-size:13px;color:#F23645;font-weight:700');T('SELL',91,98,'font-size:12px;color:#F23645');
T('0.005',139,91,'font-size:11px');
box(160,70,53,38,'background:#fff;border:1px solid #2962FF;border-radius:6px');T('0.085',186,84,'font-size:13px;color:#2962FF;font-weight:700');T('BUY',186,98,'font-size:12px;color:#2962FF');
// legend
const TC='#22AB94';
L('O',229,58,'font-size:13px');L('0.080',239,58,'font-size:13px;color:'+TC);
L('H',277,58,'font-size:13px');L('0.080',288,58,'font-size:13px;color:'+TC);
L('L',325,58,'font-size:13px');L('0.080',332,58,'font-size:13px;color:'+TC);
L('C',369,58,'font-size:13px');L('0.080',378,58,'font-size:13px;color:'+TC);
L('\u22120.005 (\u22125.88%)',416,58,'font-size:13px;color:'+TC);
// tooltip
box(20,36,12,12,'background:#2E2E2E;transform:rotate(45deg)');
box(10,42,211,42,'background:#2E2E2E;border-radius:3px');
L('Logged in as MahersahamOfficial',18,55,'font-size:12.2px;color:#DDD');
L('Active layout: INtraswing 1D',18,73,'font-size:12.2px;color:#DDD');
// floating tools
box(540,100,100,37,'background:#fff;border-radius:6px;box-shadow:0 1px 5px rgba(0,0,0,.2)');
T('1',579,108,'font-size:8px;font-weight:700');T('5',594,108,'font-size:8px;font-weight:700');T('A',617.5,108,'font-size:8px;font-weight:700');T('C',631.5,108,'font-size:8px;font-weight:700');
const wave='<path d="M1 18l7-7 8 6 9-7"/><circle cx="1" cy="18" r="1.6" fill="#fff"/><circle cx="8" cy="11" r="1.6" fill="#fff"/><circle cx="16" cy="17" r="1.6" fill="#fff"/><circle cx="25" cy="10" r="1.6" fill="#fff"/>';
ic(584,120,wave);ic(622,120,wave);
ic(552,118,'<g fill="#C9CBD1" stroke="none"><rect x="9" y="6" width="2" height="2"/><rect x="15" y="6" width="2" height="2"/><rect x="9" y="12" width="2" height="2"/><rect x="15" y="12" width="2" height="2"/><rect x="9" y="18" width="2" height="2"/><rect x="15" y="18" width="2" height="2"/></g>');
// event badges
box(96,556,20,20,'background:#fff;border:2px solid #2962FF;border-radius:50%');T('D',106,566,'font-size:12px;color:#2962FF');
box(352,556,19,19,'background:#fff;border:2px solid #6B6B6B;border-radius:4px');T('E',361.5,565.5,'font-size:12px;color:#555;font-weight:700');
box(638,557,19,19,'background:#fff;border:2px solid #6B6B6B;border-radius:4px');T('E',647.5,566.5,'font-size:12px;color:#555;font-weight:700');
// signals
box(899,352,28,20,'background:#000;border-radius:4px');T('Sell',913,362,'font-size:12px;color:#fff');
box(783,496,29,20,'background:#673AB7;border-radius:4px');T('Buy',797.5,506,'font-size:12px;color:#fff');
// last-price tag
box(934,449,76,16,'background:#FF5252;border-radius:3px');box(966,449,1,16,'background:#fff');
T('KHB',949,457,'font-size:12px;color:#fff');T('0.080',988,457,'font-size:12px;color:#fff');
// watermark logo
const logo=document.createElementNS('http://www.w3.org/2000/svg','svg');logo.setAttribute('width',34);logo.setAttribute('height',19);logo.setAttribute('viewBox','0 0 34 19');logo.style.cssText='left:66px;top:982px';
logo.innerHTML='<rect width="34" height="19" fill="#fff"/><path d="M1 2h15v15H8V8H1z" fill="#131722"/><circle cx="19" cy="5" r="2.6" fill="#131722"/><path d="M23 2h9l-7 15h-9z" fill="#131722"/>';ui.appendChild(logo);
</script>
</body></html>
